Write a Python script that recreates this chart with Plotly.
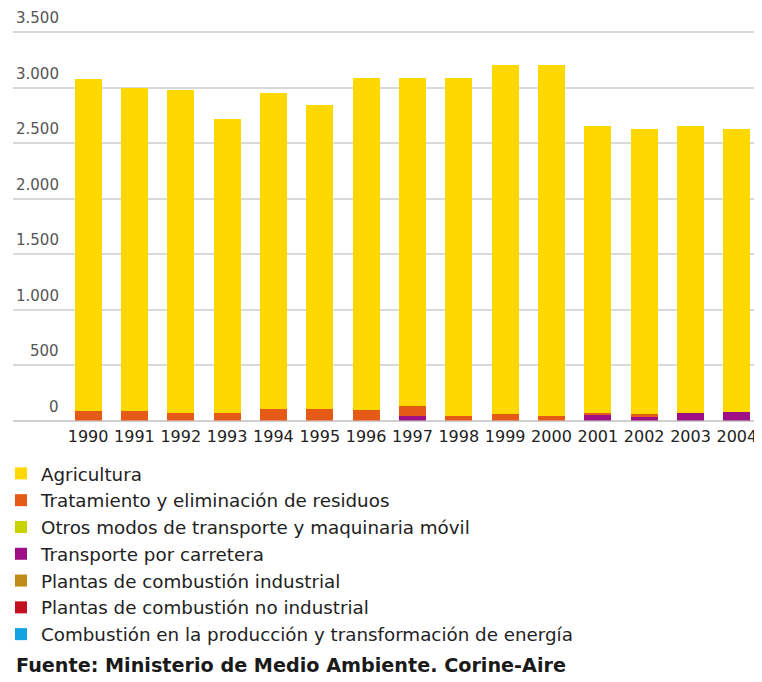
import plotly.graph_objects as go

years = [str(y) for y in range(1990, 2005)]

# valores (segmentos apilados)
agricultura = [2990, 2910, 2915, 2655, 2845, 2735, 2995, 2950, 3040, 3140, 3155, 2582, 2575, 2580, 2552]
tratamiento = [90, 90, 65, 65, 105, 105, 95, 90, 45, 60, 45, 20, 15, 0, 0]
otros_modos = [0] * 15
transporte = [0, 0, 0, 0, 0, 0, 0, 45, 0, 0, 0, 48, 40, 70, 78]
plantas_ind = [0] * 15
plantas_no_ind = [0] * 15
combustion_energia = [0] * 15

y_ticks = [0, 500, 1000, 1500, 2000, 2500, 3000, 3500]
y_ticktext = ["0", "500", "1.000", "1.500", "2.000", "2.500", "3.000", "3.500"]

# de abajo hacia arriba en la pila
series = [
    ("Combustión en la producción y transformación de energía", combustion_energia, "#12A3E0"),
    ("Plantas de combustión no industrial", plantas_no_ind, "#C2101E"),
    ("Plantas de combustión industrial", plantas_ind, "#C18B17"),
    ("Transporte por carretera", transporte, "#9E0E84"),
    ("Otros modos de transporte y maquinaria móvil", otros_modos, "#C8D200"),
    ("Tratamiento y eliminación de residuos", tratamiento, "#E65A17"),
    ("Agricultura", agricultura, "#FFD800"),
]

W, H = 762, 682
OFF = 8  # margen del <body> de la pagina html


def px(x):
    return (x - OFF) / W


def py(y):
    return 1 - (y - OFF) / H


fig = go.Figure()
for name, vals, col in series:
    fig.add_trace(go.Bar(x=years, y=vals, name=name, marker=dict(color=col, line=dict(width=0))))

# margenes a cero: el area del grafico se fija con los dominios
fig.update_layout(
    width=W, height=H,
    margin=dict(l=0, r=0, t=0, b=0, autoexpand=False),
    barmode="stack", bargap=0.42,
    plot_bgcolor="white", paper_bgcolor="white",
    font=dict(family="DejaVu Sans", color="#222"),
    showlegend=True,
    legend=dict(
        traceorder="reversed",
        x=-7 / W, xanchor="left", y=py(455), yanchor="top",
        font=dict(family="DejaVu Sans", size=18.3, color="#222"),
        bgcolor="rgba(0,0,0,0)",
    ),
)
fig.update_xaxes(
    type="category", range=[-1.62, 14.5], domain=[px(13), px(760)],
    showgrid=False, showline=False, ticks="", ticklabelstandoff=4,
    tickfont=dict(family="DejaVu Sans", size=16, color="#222"),
)
fig.update_yaxes(
    range=[0, 3510], domain=[py(420.5), py(30.9)],
    tickvals=y_ticks, showticklabels=False,
    showgrid=True, gridcolor="#d9d9d9", gridwidth=1.5,
    zeroline=True, zerolinecolor="#cfcfcf", zerolinewidth=1.5,
)

for v, t in zip(y_ticks, y_ticktext):
    fig.add_annotation(
        x=px(61), xref="paper", xanchor="right", y=v, yref="y", yanchor="middle",
        yshift=14, text=t, showarrow=False,
        font=dict(family="DejaVu Sans", size=15, color="#555"),
    )

fig.add_annotation(
    x=px(14), xref="paper", xanchor="left", y=py(665), yref="paper", yanchor="middle",
    text="Fuente: Ministerio de Medio Ambiente. Corine-Aire", showarrow=False,
    font=dict(family="DejaVu Sans", size=19.2, color="#1a1a1a", weight="bold"),
)

fig.write_html("out.html")
